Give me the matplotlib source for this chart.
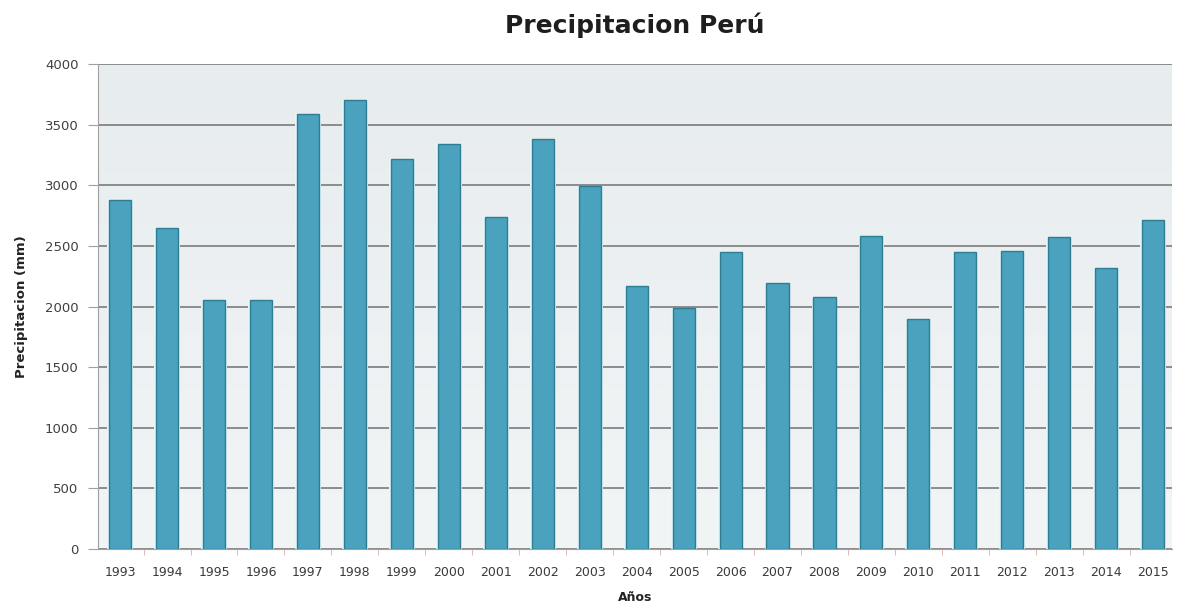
import matplotlib
matplotlib.use('Agg')
import matplotlib.pyplot as plt
import numpy as np

# Annual precipitation values
years = [str(y) for y in range(1993, 2016)]
precip_mm = [2880, 2650, 2050, 2050, 3590, 3700, 3220, 3340, 2740, 3380, 2990,
             2170, 1990, 2450, 2190, 2080, 2580, 1900, 2450, 2460, 2570, 2320, 2710]
y_ticks = [0, 500, 1000, 1500, 2000, 2500, 3000, 3500, 4000]

fig = plt.figure(figsize=(11.77, 6.04), dpi=100)
ax = fig.add_axes([98 / 1177, 1 - 549 / 604, (1172 - 98) / 1177, (549 - 64) / 604])

# Light gradient for the plot area
grad = np.linspace(0, 1, 256).reshape(-1, 1)
ax.imshow(grad, extent=[-0.47, 22.4, 0, 4000], aspect='auto', zorder=0,
          cmap=matplotlib.colors.LinearSegmentedColormap.from_list('bg', ['#f2f5f6', '#e7ecef']),
          origin='lower')

x = np.arange(len(years))
# pale halo behind each bar
ax.bar(x, precip_mm, width=0.55, color='#e4f6f9', linewidth=0, zorder=2)
ax.bar(x, precip_mm, width=0.47, color='#4aa2be', edgecolor='#2f7d93',
       linewidth=1.0, zorder=3)

ax.set_xlim(-0.47, 22.4)
ax.set_ylim(0, 4000)
ax.set_yticks(y_ticks)
ax.set_xticks(x)
ax.set_xticklabels(years)
ax.set_xticks(x[1:] - 0.5, minor=True)
ax.yaxis.grid(True, color='#8c8c8c', linewidth=1.4, zorder=1)
ax.set_axisbelow(True)

for side in ['top', 'right']:
    ax.spines[side].set_visible(False)
ax.spines['left'].set_color('#a0a0a0')
ax.spines['bottom'].set_color('#a0a0a0')
ax.tick_params(axis='y', colors='#a0a0a0', labelcolor='#404040', labelsize=9.5, length=7, pad=7)
ax.tick_params(axis='x', which='major', length=0, labelcolor='#3a3a3a', labelsize=9, pad=12)
ax.tick_params(axis='x', which='minor', length=4, color='#d8b0b0')

ax.set_title('Precipitacion Perú', fontsize=18, fontweight='bold', color='#1e1e1e', pad=22)
ax.set_ylabel('Precipitacion (mm)', fontsize=9.5, fontweight='bold', color='#222222', labelpad=12)
ax.set_xlabel('Años', fontsize=9, fontweight='bold', color='#222222', labelpad=9)

fig.savefig('out.png', dpi=100)
